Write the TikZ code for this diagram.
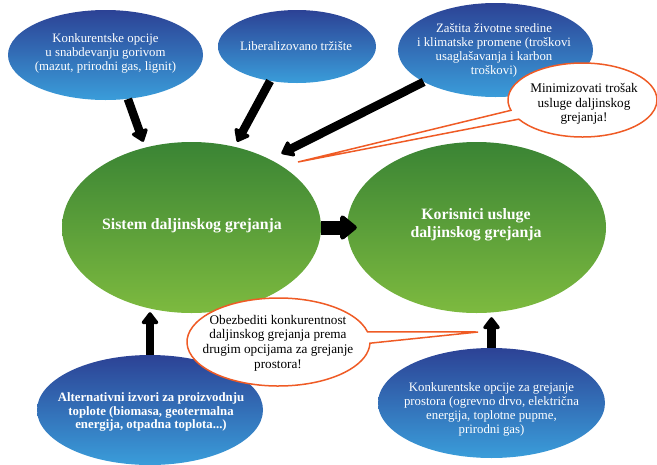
\documentclass[tikz,border=0pt]{standalone}
\usepackage{fontspec}
\setmainfont{Liberation Serif}
\usetikzlibrary{shapes.geometric,shapes.callouts,arrows.meta}
\definecolor{bluetop}{HTML}{2C4295}
\definecolor{bluebot}{HTML}{3A9DDA}
\definecolor{greentop}{HTML}{3A8434}
\definecolor{greenbot}{HTML}{7DBA3F}
\definecolor{orangeline}{HTML}{EF5B25}
\begin{document}
\begin{tikzpicture}[x=1pt,y=-1pt,
  bluebub/.style={ellipse,inner sep=0pt,top color=bluetop,bottom color=bluebot,draw=none},
  greenbub/.style={ellipse,inner sep=0pt,top color=greentop,bottom color=greenbot,draw=none},
  calloutbub/.style={ellipse callout,inner sep=0pt,draw=orangeline,line width=1.5pt,fill=white,callout pointer arc=15},
  wtxt/.style={text=white,align=center,font=\fontsize{12.8}{14}\selectfont},
  wbtxt/.style={text=white,align=center,font=\bfseries\fontsize{12.8}{13.6}\selectfont},
  gtxt/.style={text=white,align=center,font=\bfseries\fontsize{15.8}{17.5}\selectfont},
  ktxt/.style={text=black,align=center,font=\fontsize{13.2}{14.6}\selectfont},
  arr/.style={line width=8.5pt,-{Triangle[length=13pt,width=19pt,round]}},
  bigarr/.style={line width=14pt,-{Triangle[length=18pt,width=28pt,round]}}
]
\useasboundingbox (0,0) rectangle (657,464);

% blue ellipses
\node[bluebub,minimum width=195pt,minimum height=90pt] (k1) at (105.5,55) {};
\node[wtxt] (k1t) at (105.5,53) {Konkurentske opcije\\u snabdevanju gorivom\\(mazut, prirodni gas, lignit)};
\node[bluebub,minimum width=158pt,minimum height=73pt] (lib) at (297,46.5) {};
\node[wtxt] (libt) at (296,46) {Liberalizovano tržište};
\node[bluebub,minimum width=195pt,minimum height=94pt] (zas) at (495.5,50) {};
\node[wtxt] (zast) at (494,50) {Zaštita životne sredine\\i klimatske promene (troškovi\\usaglašavanja i karbon\\troškovi)};
\node[bluebub,minimum width=226pt,minimum height=110pt] (alt) at (150,410) {};
\node[wbtxt] (altt) at (151,412) {Alternativni izvori za proizvodnju\\toplote (biomasa, geotermalna\\energija, otpadna toplota...)};
\node[bluebub,minimum width=227pt,minimum height=110pt] (kon) at (491.5,403) {};
\node[wtxt] (kont) at (491.5,409) {Konkurentske opcije za grejanje\\prostora (ogrevno drvo, električna\\energija, toplotne pupme,\\prirodni gas)};

% green ellipses
\node[greenbub,minimum width=259pt,minimum height=171pt] (sys) at (191.5,227.5) {};
\node[gtxt] (syst) at (192,226) {Sistem daljinskog grejanja};
\node[greenbub,minimum width=259pt,minimum height=171pt] (kor) at (476.5,227.5) {};
\node[gtxt] (kort) at (476,225) {Korisnici usluge\\daljinskog grejanja};

% arrows
\draw[arr,shorten >=6pt] (k1.297) -- (sys.120);
\draw[arr,shorten >=5.5pt] (lib.232) -- (sys.62);
\draw[arr,shorten >=12.8pt] (zas.204) -- (sys.41.7);
\draw[bigarr,shorten >=-10pt] (sys.east) -- (kor.west);
\draw[arr,shorten >=-1pt] (alt.north) -- (alt.north |- sys.south);
\draw[arr,shorten >=4pt] (kon.north) -- (kon.north |- kor.south);

% callouts
\coordinate (mintip) at (298,162);
\node[calloutbub,minimum width=149pt,minimum height=74pt,callout absolute pointer={(mintip)}] (min) at (582.5,100) {};
\node[ktxt] (mint) at (584,104) {Minimizovati trošak\\usluge daljinskog\\grejanja!};
\coordinate (obtip) at (478,332);
\node[calloutbub,minimum width=183pt,minimum height=88pt,callout absolute pointer={(obtip)}] (ob) at (278.5,342) {};
\node[ktxt] (obt) at (278,343) {Obezbediti konkurentnost\\daljinskog grejanja prema\\drugim opcijama za grejanje\\prostora!};
\end{tikzpicture}
\end{document}
